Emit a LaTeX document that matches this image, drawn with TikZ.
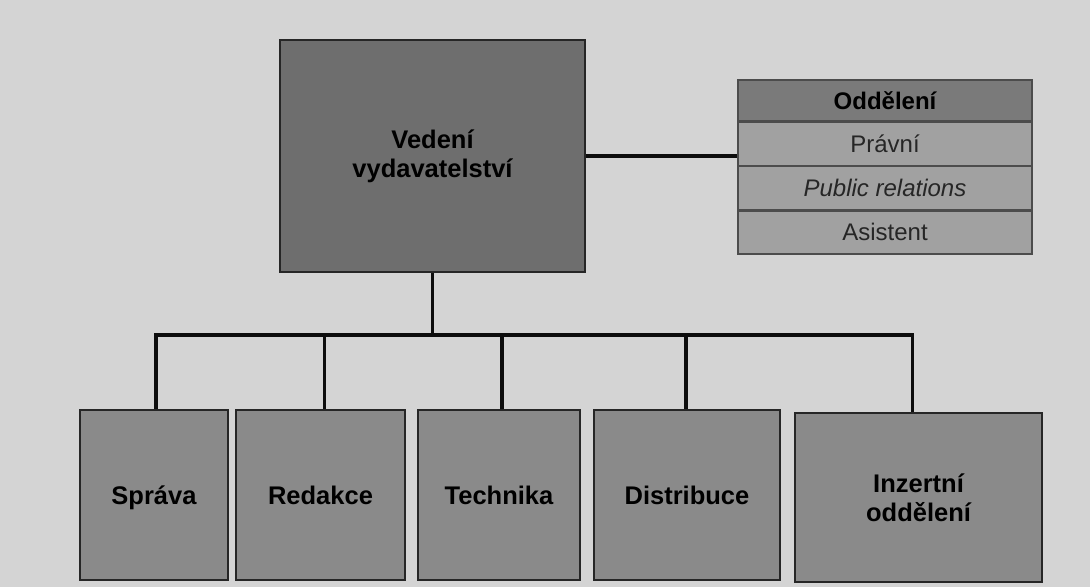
\documentclass[tikz,border=0pt]{standalone}
\usepackage{fontspec}
\setmainfont{Liberation Sans}
\begin{document}
\begin{tikzpicture}[x=1pt,y=1pt,
  box/.style={draw=black!85, line width=1.8pt, fill=#1, inner sep=0pt, align=center,
    font=\fontsize{25.5}{29}\selectfont\bfseries, text=black},
  row/.style={draw=black!70, line width=1.3pt, fill=black!37, minimum width=294pt, inner sep=0pt,
    font=\fontsize{24}{28}\selectfont, text=black!85},
  conn/.style={line width=3.4pt, draw=black!95}
]
\fill[black!17] (0,0) rectangle (1090,587);
\useasboundingbox (0,0) rectangle (1090,587);
% top box
\node[box=black!57, minimum width=305pt, minimum height=232pt] (top) at (432.5,431) {Vedení\\vydavatelství};
% table
\node[row, minimum height=41pt, fill=black!52, font=\fontsize{24}{28}\selectfont\bfseries, text=black] (odd) at (885,486.5) {Oddělení};
\node[row, minimum height=43pt, anchor=north] (pra) at (odd.south) {Právní};
\node[row, minimum height=43pt, anchor=north] (pub) at (pra.south) {\itshape Public relations};
\node[row, minimum height=43pt, anchor=north] (asi) at (pub.south) {Asistent};
% bottom boxes
\tikzset{bot/.style={box=black!46, minimum height=170pt}}
\node[bot, minimum width=148pt, text depth=0pt] (spr) at (154,92) {Správa};
\node[bot, minimum width=169pt] (red) at (320.5,92) {Redakce};
\node[bot, minimum width=162pt] (tec) at (499,92) {Technika};
\node[bot, minimum width=186pt] (dis) at (687,92) {Distribuce};
\node[bot, minimum width=247pt, minimum height=169pt] (inz) at (918.5,89.5) {Inzertní\\oddělení};
% connectors
\coordinate (bus) at (432.5,252);
\draw[conn] (top.east) -- (top.east -| pra.west);
\draw[conn] (top.south) -- (bus);
\draw[conn] ([xshift=2pt]spr.north) -- ([xshift=2pt]spr.north |- bus) -- ([xshift=-6pt]inz.north |- bus) -- ([xshift=-6pt]inz.north);
\draw[conn] ([xshift=4pt]red.north) -- ([xshift=4pt]red.north |- bus);
\draw[conn] ([xshift=3pt]tec.north) -- ([xshift=3pt]tec.north |- bus);
\draw[conn] ([xshift=-1pt]dis.north) -- ([xshift=-1pt]dis.north |- bus);
\end{tikzpicture}
\end{document}
